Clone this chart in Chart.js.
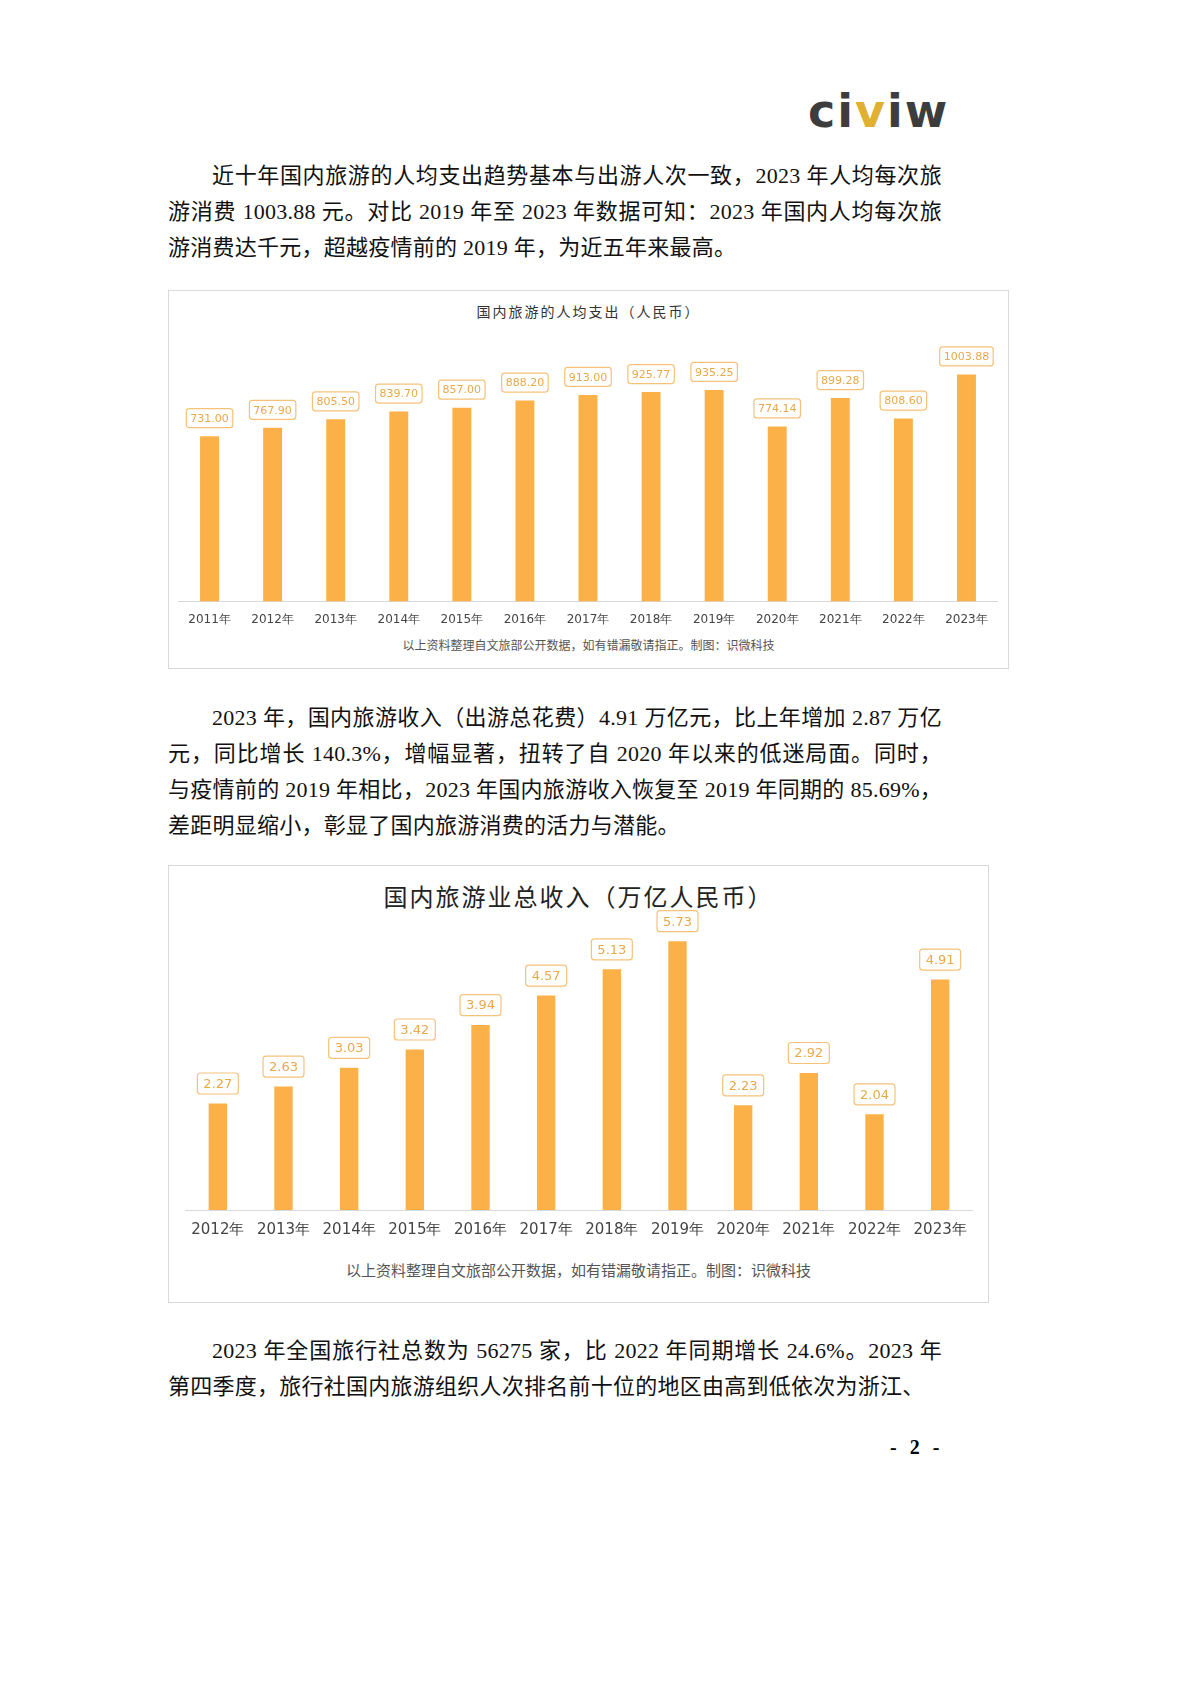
<!DOCTYPE html>
<html><head><meta charset="utf-8">
<script src="https://cdn.jsdelivr.net/npm/chart.js@4"></script>
<style>
body{margin:0;width:1190px;height:1683px;background:#fff;position:relative;font-family:"Liberation Serif","Noto Sans CJK SC",serif;}
.p{position:absolute;left:168px;width:774px;font-size:22px;letter-spacing:0.25px;line-height:36px;color:#111;text-align:justify;text-indent:2em;margin:0}
.box{position:absolute;border:1px solid #d9d9d9;background:#fff}
.t{position:absolute;left:0;right:0;text-align:center;font-family:"Noto Sans CJK SC";color:#333}
.logo{position:absolute;left:808px;top:84px;font-family:"DejaVu Sans";font-weight:bold;font-size:46px;letter-spacing:2px;color:#3d3d3d}
</style></head><body>
<div class="logo">ci<span style="color:#e0b030">v</span>iw</div>
<p class="p" style="top:158px">近十年国内旅游的人均支出趋势基本与出游人次一致，2023 年人均每次旅游消费 1003.88 元。对比 2019 年至 2023 年数据可知：2023 年国内人均每次旅游消费达千元，超越疫情前的 2019 年，为近五年来最高。</p>
<div class="box" style="left:168px;top:290px;width:839px;height:377px">
 <div class="t" style="top:10px;font-size:14px;letter-spacing:2px">国内旅游的人均支出（人民币）</div>
 <div class="t" style="top:345px;font-size:12px;color:#555">以上资料整理自文旅部公开数据，如有错漏敬请指正。制图：识微科技</div>
</div>
<div style="position:absolute;left:178px;top:330px;width:820px;height:300px"><canvas id="c1"></canvas></div>
<p class="p" style="top:700px">2023 年，国内旅游收入（出游总花费）4.91 万亿元，比上年增加 2.87 万亿元，同比增长 140.3%，增幅显著，扭转了自 2020 年以来的低迷局面。同时，与疫情前的 2019 年相比，2023 年国内旅游收入恢复至 2019 年同期的 85.69%，差距明显缩小，彰显了国内旅游消费的活力与潜能。</p>
<div class="box" style="left:168px;top:865px;width:819px;height:436px">
 <div class="t" style="top:12px;font-size:24px;letter-spacing:2px;color:#222">国内旅游业总收入（万亿人民币）</div>
 <div class="t" style="top:393px;font-size:15px;color:#555">以上资料整理自文旅部公开数据，如有错漏敬请指正。制图：识微科技</div>
</div>
<div style="position:absolute;left:185px;top:905px;width:788px;height:337px"><canvas id="c2"></canvas></div>
<p class="p" style="top:1333px">2023 年全国旅行社总数为 56275 家，比 2022 年同期增长 24.6%。2023 年第四季度，旅行社国内旅游组织人次排名前十位的地区由高到低依次为浙江、</p>
<div style="position:absolute;left:890px;top:1436px;font-size:20px;font-weight:bold;letter-spacing:4px">- 2 -</div>
<script>
const years1=["2011年","2012年","2013年","2014年","2015年","2016年","2017年","2018年","2019年","2020年","2021年","2022年","2023年"];
const spend=[731.00,767.90,805.50,839.70,857.00,888.20,913.00,925.77,935.25,774.14,899.28,808.60,1003.88];
const years2=["2012年","2013年","2014年","2015年","2016年","2017年","2018年","2019年","2020年","2021年","2022年","2023年"];
const income=[2.27,2.63,3.03,3.42,3.94,4.57,5.13,5.73,2.23,2.92,2.04,4.91];
function lbl(fs,pad,off){return {id:'lbl',afterDatasetsDraw(ch){const c=ch.ctx;const m=ch.getDatasetMeta(0);c.save();c.font=fs+'px "DejaVu Sans"';c.textAlign='center';c.textBaseline='middle';
 m.data.forEach((b,i)=>{const v=ch.data.datasets[0].data[i].toFixed(2);const w=c.measureText(v).width+pad*2,h=fs+8;const y=b.y-off;
 c.fillStyle='#fff';c.strokeStyle='#f5c27a';c.lineWidth=1.2;c.beginPath();c.roundRect(b.x-w/2,y-h/2,w,h,3);c.fill();c.stroke();c.fillStyle='#e8a94a';c.fillText(v,b.x,y+1);});c.restore();}};}
function mk(id,labels,data,max,bp,fs,tfs,lp,off){
new Chart(document.getElementById(id),{type:'bar',data:{labels:labels,datasets:[{data:data,backgroundColor:'#fbb147',barPercentage:bp,categoryPercentage:1}]},
options:{responsive:true,maintainAspectRatio:false,animation:false,plugins:{legend:{display:false},tooltip:{enabled:false}},
scales:{x:{grid:{display:false},border:{color:'#d9d9d9'},ticks:{color:'#444',font:{size:tfs,family:'"DejaVu Sans"'},maxRotation:0,autoSkip:false}},
y:{display:false,min:0,max:max}}},plugins:[lbl(fs,lp,off)]});}
mk('c1',years1,spend,1200,0.3,11,12,4,18);
mk('c2',years2,income,6.5,0.28,13,15,6,20);
</script></body></html>
